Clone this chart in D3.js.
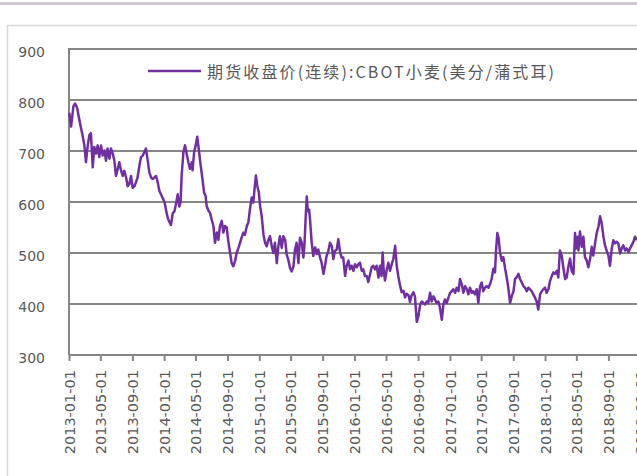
<!DOCTYPE html>
<html><head><meta charset="utf-8">
<script src="https://cdn.jsdelivr.net/npm/d3@7"></script>
<style>html,body{margin:0;padding:0;background:#fff;overflow:hidden}</style>
</head><body>
<svg id="chart" width="637" height="476"></svg>
<script>
// ---- data ----
const seriesName = "期货收盘价(连续):CBOT小麦(美分/蒲式耳)";
const yTicks = [300, 400, 500, 600, 700, 800, 900];
const xTickLabels = ["2013-01-01","2013-05-01","2013-09-01","2014-01-01","2014-05-01","2014-09-01","2015-01-01","2015-05-01","2015-09-01","2016-01-01","2016-05-01","2016-09-01","2017-01-01","2017-05-01","2017-09-01","2018-01-01","2018-05-01","2018-09-01","2019-01-01"];

const dates2013 = ["2013-01-02","2013-01-09","2013-01-18","2013-01-24","2013-02-01","2013-02-07","2013-02-16","2013-02-22","2013-03-01","2013-03-07","2013-03-14","2013-03-20","2013-03-26","2013-04-02","2013-04-08","2013-04-15","2013-04-21","2013-04-27","2013-05-04","2013-05-10","2013-05-17","2013-05-23","2013-05-29","2013-06-05","2013-06-11","2013-06-18","2013-06-24","2013-06-30","2013-07-07","2013-07-13","2013-07-20","2013-07-26","2013-08-01","2013-08-08","2013-08-14","2013-08-20","2013-08-27","2013-09-02","2013-09-09","2013-09-15","2013-09-21","2013-09-28","2013-10-04","2013-10-11","2013-10-17","2013-10-23","2013-10-30","2013-11-05","2013-11-12","2013-11-18","2013-11-24","2013-12-01","2013-12-07","2013-12-14","2013-12-20","2013-12-26"];
const values2013 = [775,748,788,793,785,768,745,731,711,678,711,731,735,668,708,695,711,688,711,691,701,681,705,685,705,695,681,651,665,678,661,651,661,648,631,635,651,628,631,639,648,671,688,691,698,705,681,658,648,645,648,651,639,621,615,608];

const dates2014 = ["2014-01-02","2014-01-08","2014-01-15","2014-01-21","2014-01-27","2014-02-03","2014-02-09","2014-02-16","2014-02-22","2014-02-28","2014-03-05","2014-03-09","2014-03-16","2014-03-22","2014-03-28","2014-04-04","2014-04-10","2014-04-17","2014-04-20","2014-04-26","2014-05-02","2014-05-08","2014-05-15","2014-05-21","2014-05-28","2014-06-03","2014-06-09","2014-06-13","2014-06-20","2014-06-26","2014-07-02","2014-07-09","2014-07-15","2014-07-22","2014-07-28","2014-08-03","2014-08-10","2014-08-16","2014-08-22","2014-08-29","2014-09-04","2014-09-11","2014-09-17","2014-09-23","2014-09-30","2014-10-06","2014-10-13","2014-10-19","2014-10-25","2014-11-01","2014-11-07","2014-11-14","2014-11-20","2014-11-26","2014-12-03","2014-12-09","2014-12-13","2014-12-19","2014-12-24","2014-12-30"];
const values2014 = [601,585,568,561,555,578,581,598,615,591,600,652,698,711,695,678,665,678,662,698,711,728,698,672,645,619,612,592,583,579,566,553,520,540,526,553,563,540,553,550,523,500,480,474,484,500,510,520,530,540,536,553,560,586,609,599,622,652,632,619];

const dates2015 = ["2015-01-04","2015-01-10","2015-01-17","2015-01-23","2015-01-29","2015-02-05","2015-02-11","2015-02-18","2015-02-24","2015-03-02","2015-03-09","2015-03-15","2015-03-21","2015-03-28","2015-04-03","2015-04-10","2015-04-16","2015-04-22","2015-04-29","2015-05-05","2015-05-12","2015-05-18","2015-05-24","2015-05-31","2015-06-06","2015-06-13","2015-06-19","2015-06-23","2015-06-28","2015-07-02","2015-07-06","2015-07-11","2015-07-14","2015-07-21","2015-07-27","2015-08-03","2015-08-09","2015-08-15","2015-08-22","2015-08-28","2015-09-04","2015-09-10","2015-09-16","2015-09-23","2015-09-29","2015-10-06","2015-10-12","2015-10-18","2015-10-25","2015-10-31","2015-11-07","2015-11-13","2015-11-19","2015-11-26","2015-12-02","2015-12-09","2015-12-15","2015-12-21","2015-12-28"];
const values2015 = [592,573,536,520,513,526,533,513,500,520,480,513,533,510,533,526,497,487,470,464,474,507,520,480,530,520,491,514,572,611,582,585,569,520,494,511,498,507,491,481,459,475,494,504,520,514,488,504,507,527,501,491,491,455,475,485,468,475,465];

const dates2016 = ["2016-01-03","2016-01-10","2016-01-16","2016-01-22","2016-01-29","2016-02-04","2016-02-10","2016-02-17","2016-02-23","2016-03-01","2016-03-07","2016-03-13","2016-03-20","2016-03-26","2016-04-02","2016-04-08","2016-04-14","2016-04-18","2016-04-22","2016-04-27","2016-05-04","2016-05-10","2016-05-16","2016-05-23","2016-05-29","2016-06-05","2016-06-11","2016-06-17","2016-06-24","2016-06-30","2016-07-07","2016-07-13","2016-07-19","2016-07-26","2016-08-01","2016-08-07","2016-08-14","2016-08-20","2016-08-27","2016-09-02","2016-09-09","2016-09-15","2016-09-21","2016-09-28","2016-10-04","2016-10-10","2016-10-17","2016-10-23","2016-10-30","2016-11-05","2016-11-11","2016-11-18","2016-11-24","2016-12-01","2016-12-07","2016-12-13","2016-12-20","2016-12-26"];
const values2016 = [478,472,478,481,465,468,455,455,443,459,472,475,468,475,452,475,455,501,468,446,468,481,465,478,488,514,475,455,436,423,426,413,420,417,404,417,423,415,365,375,399,405,402,399,405,402,422,405,415,409,402,405,392,369,399,409,402,412];

const dates2017 = ["2017-01-02","2017-01-08","2017-01-14","2017-01-21","2017-01-27","2017-02-03","2017-02-09","2017-02-15","2017-02-22","2017-02-28","2017-03-07","2017-03-13","2017-03-19","2017-03-26","2017-04-01","2017-04-07","2017-04-14","2017-04-20","2017-04-27","2017-05-03","2017-05-09","2017-05-16","2017-05-22","2017-05-29","2017-06-04","2017-06-10","2017-06-17","2017-06-23","2017-06-27","2017-07-02","2017-07-07","2017-07-12","2017-07-19","2017-07-25","2017-08-01","2017-08-07","2017-08-13","2017-08-20","2017-08-26","2017-09-02","2017-09-08","2017-09-14","2017-09-21","2017-09-27","2017-10-04","2017-10-10","2017-10-16","2017-10-23","2017-10-29","2017-11-04","2017-11-11","2017-11-17","2017-11-24","2017-11-30","2017-12-06","2017-12-13","2017-12-19","2017-12-26"];
const values2017 = [422,425,429,422,432,425,449,439,422,435,429,419,432,422,425,419,429,402,435,442,425,432,435,432,439,449,469,462,505,539,529,502,485,492,469,452,432,402,415,425,449,452,459,449,442,435,432,425,432,429,425,419,412,405,389,419,425,429];

const dates2018 = ["2018-01-01","2018-01-07","2018-01-14","2018-01-20","2018-01-27","2018-02-02","2018-02-08","2018-02-15","2018-02-21","2018-02-27","2018-03-06","2018-03-12","2018-03-19","2018-03-25","2018-03-31","2018-04-07","2018-04-13","2018-04-20","2018-04-26","2018-04-30","2018-05-05","2018-05-09","2018-05-15","2018-05-22","2018-05-28","2018-06-03","2018-06-10","2018-06-16","2018-06-23","2018-06-29","2018-07-05","2018-07-12","2018-07-18","2018-07-25","2018-07-31","2018-08-06","2018-08-13","2018-08-19","2018-08-25","2018-09-01","2018-09-07","2018-09-14","2018-09-20","2018-09-26","2018-10-03","2018-10-09","2018-10-16","2018-10-22","2018-10-28","2018-11-04","2018-11-10","2018-11-17","2018-11-23","2018-11-29","2018-12-06","2018-12-12","2018-12-19"];
const values2018 = [432,422,429,445,455,462,459,465,452,505,495,472,449,452,472,489,465,459,539,509,532,505,542,512,532,492,485,472,489,512,495,519,539,552,572,559,532,515,505,495,475,509,525,519,522,519,499,509,515,505,509,502,509,515,522,532,525];

// ---- build ----
const parse = d3.utcParse("%Y-%m-%d");
const allDates = [].concat(dates2013, dates2014, dates2015, dates2016, dates2017, dates2018);
const allValues = [].concat(values2013, values2014, values2015, values2016, values2017, values2018);
const data = allDates.map((d, i) => ({ date: parse(d), value: allValues[i] }));

const W = 637, H = 476;
const plotLeft = 69, plotTop = 49, plotBottom = 355;
const svg = d3.select("#chart");

// page decoration
svg.append("rect").attr("x", 0).attr("y", 2).attr("width", W).attr("height", 3).attr("fill", "#cfc8d2");
svg.append("rect").attr("x", 7.5).attr("y", 25.5).attr("width", 700).attr("height", 500)
  .attr("fill", "#fff").attr("stroke", "#d9d9d9").attr("stroke-width", 1.5);

const x = d3.scaleUtc().domain([parse("2013-01-01"), parse("2019-01-01")]).range([plotLeft, 640.2]);
const y = d3.scaleLinear().domain([300, 900]).range([plotBottom, plotTop]);

const gridColor = "#868686";
const textColor = "#595959";

// gridlines
svg.append("g").selectAll("line").data(yTicks.filter(v => v > 300)).join("line")
  .attr("x1", plotLeft).attr("x2", W).attr("y1", d => y(d)).attr("y2", d => y(d))
  .attr("stroke", gridColor).attr("stroke-width", 2);

// y labels
svg.append("g").selectAll("text").data(yTicks).join("text")
  .attr("x", 45).attr("y", d => y(d) + 8)
  .attr("text-anchor", "end")
  .attr("font-family", "DejaVu Sans").attr("font-size", 14).attr("fill", textColor)
  .text(d => d);

// left axis line
svg.append("line").attr("x1", plotLeft).attr("x2", plotLeft).attr("y1", plotTop - 1).attr("y2", plotBottom)
  .attr("stroke", gridColor).attr("stroke-width", 2);

// x axis
const xAxis = d3.axisBottom(x)
  .tickValues(xTickLabels.map(parse))
  .tickSize(6)
  .tickSizeOuter(0)
  .tickFormat(d3.utcFormat("%Y-%m-%d"));
const gx = svg.append("g").attr("transform", `translate(0,${plotBottom})`).call(xAxis);
gx.select(".domain").attr("d", `M${plotLeft},0H${W}`).attr("stroke", gridColor).attr("stroke-width", 2);
gx.selectAll(".tick line").attr("stroke", gridColor).attr("stroke-width", 2);
gx.selectAll(".tick text")
  .attr("transform", "rotate(-90)")
  .attr("text-anchor", "end")
  .attr("x", -15).attr("y", 0).attr("dy", "0.36em")
  .attr("font-family", "DejaVu Sans").attr("font-size", 14.5).attr("fill", textColor);

// series line
const line = d3.line().x(d => x(d.date)).y(d => y(d.value));
svg.append("path").datum(data)
  .attr("d", line)
  .attr("fill", "none").attr("stroke", "#7030A0").attr("stroke-width", 2.5)
  .attr("stroke-linejoin", "round");

// legend
svg.append("line").attr("x1", 148).attr("x2", 201).attr("y1", 71).attr("y2", 71)
  .attr("stroke", "#7030A0").attr("stroke-width", 2.5);
svg.append("text").attr("x", 207).attr("y", 78)
  .attr("font-family", "Noto Sans CJK SC").attr("font-size", 16).attr("fill", textColor)
  .attr("textLength", 347).attr("lengthAdjust", "spacing")
  .text(seriesName);
</script>
</body></html>
